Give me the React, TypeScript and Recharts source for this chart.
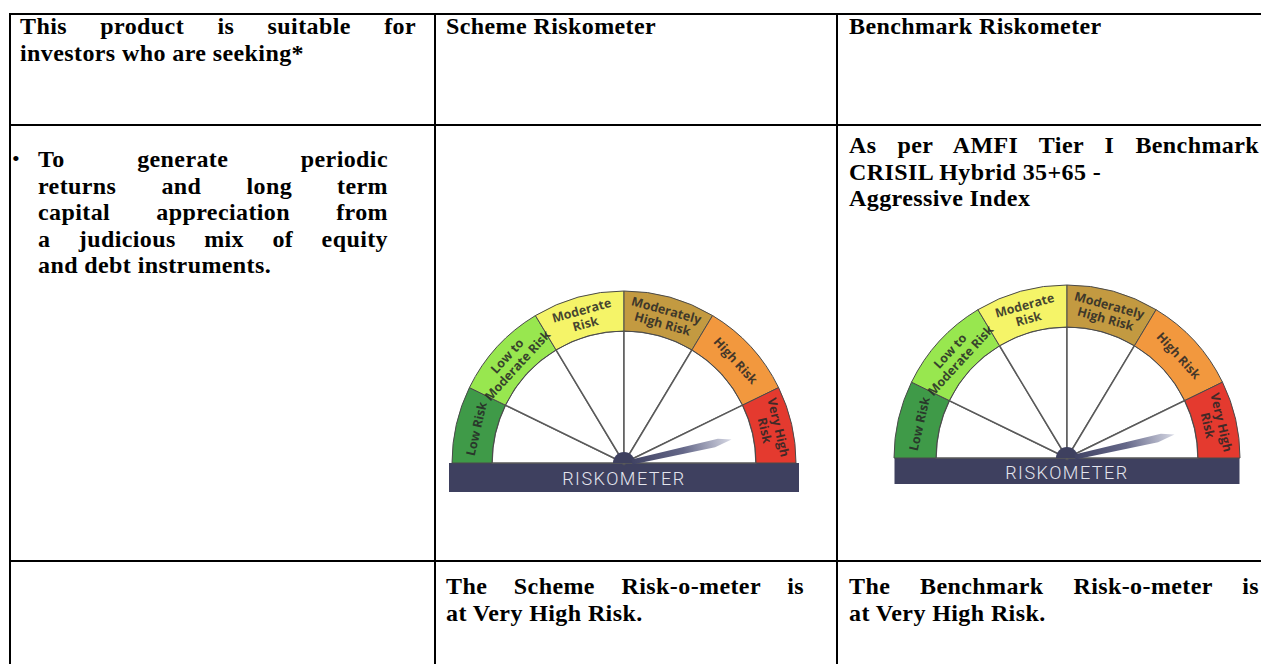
import React from 'react';
import { PieChart, Pie, Cell, Customized } from 'recharts';

// ---------- data ----------
const riskLevels = ['Low Risk', 'Low to Moderate Risk', 'Moderate Risk', 'Moderately High Risk', 'High Risk', 'Very High Risk'];
const riskLabelLines = [['Low Risk'], ['Low to', 'Moderate Risk'], ['Moderate', 'Risk'], ['Moderately', 'High Risk'], ['High Risk'], ['Very High', 'Risk']];
const segmentSpans = [26, 33, 31, 31, 33, 26];
const segmentColors = ['#3f9a48', '#98e74f', '#f5f468', '#c39a41', '#f2983e', '#e43a2f'];
const schemeNeedleValue = 169; // position along 0..180 (left to right)
const benchmarkNeedleValue = 169;

const headerTexts = ['Scheme Riskometer', 'Benchmark Riskometer'];
const col1HeaderLines = ['This product is suitable for', 'investors who are seeking*'];
const col1BulletLines = ['To generate periodic', 'returns and long term', 'capital appreciation from', 'a judicious mix of equity', 'and debt instruments.'];
const benchmarkNameLines = ['As per AMFI Tier I Benchmark', 'CRISIL Hybrid 35+65 -', 'Aggressive Index'];
const schemeFootLines = ['The Scheme Risk-o-meter is', 'at Very High Risk.'];
const benchmarkFootLines = ['The Benchmark Risk-o-meter is', 'at Very High Risk.'];

const segmentData = riskLevels.map((name, i) => ({ name, value: segmentSpans[i] }));
const hubData = [{ name: 'hub', value: 1 }];

const RADIAN = Math.PI / 180;
const FONT = '"Liberation Serif", "Times New Roman", serif';

type GaugeProps = {
  left: number; top: number; width: number; height: number;
  cx: number; cy: number; outerR: number; innerR: number;
  barW: number; barH: number; needle: number; id: string;
};

function Gauge(p: GaugeProps) {
  const renderLabel = (props: any) => {
    const { midAngle, index } = props;
    const r = (p.innerR + p.outerR) / 2;
    const x = p.cx + r * Math.cos(-midAngle * RADIAN);
    const y = p.cy + r * Math.sin(-midAngle * RADIAN);
    const rot = 90 - midAngle;
    const lines = riskLabelLines[index];
    const lh = 14;
    const start = -((lines.length - 1) * lh) / 2;
    return (
      <text
        key={`lbl-${index}`}
        x={x}
        y={y}
        transform={`rotate(${rot} ${x} ${y})`}
        textAnchor="middle"
        dominantBaseline="central"
        fontFamily='"Open Sans", sans-serif'
        fontWeight={700}
        fontSize={12.5}
        fill="#262626"
        fillOpacity={0.85}
      >
        {lines.map((t, k) => (
          <tspan key={k} x={x} dy={k === 0 ? start : lh}>{t}</tspan>
        ))}
      </text>
    );
  };

  const renderNeedle = () => {
    const theta = (180 - p.needle) * RADIAN;
    const L = 110;
    const ux = Math.cos(theta), uy = -Math.sin(theta);
    const vx = -uy, vy = ux;
    const pt = (a: number, b: number) => `${p.cx + ux * a + vx * b},${p.cy + uy * a + vy * b}`;
    const pts = [pt(8, 3), pt(8, -2), pt(L * 0.88, -6), pt(L, -2.5), pt(L * 0.84, 2)].join(' ');
    return (
      <g key={`needle-${p.id}`}>
        <defs>
          <linearGradient id={`ng-${p.id}`} x1={p.cx} y1={p.cy} x2={p.cx + ux * L} y2={p.cy + uy * L} gradientUnits="userSpaceOnUse">
            <stop offset="0%" stopColor="#3b3d5e" />
            <stop offset="55%" stopColor="#656889" />
            <stop offset="100%" stopColor="#d6d8e4" />
          </linearGradient>
        </defs>
        <polygon points={pts} fill={`url(#ng-${p.id})`} />
      </g>
    );
  };

  const Decor = () => (
    <g>
      <rect x={p.cx - p.barW / 2} y={p.cy} width={p.barW} height={p.barH} fill="#3e405f" />
      <text
        x={p.cx}
        y={p.cy + p.barH / 2 + 1}
        textAnchor="middle"
        dominantBaseline="central"
        fontFamily="Roboto, sans-serif"
        fontWeight={300}
        fontSize={18}
        letterSpacing={1.5}
        fill="#e4e5ee"
      >
        RISKOMETER
      </text>
    </g>
  );

  return (
    <div style={{ position: 'absolute', left: p.left, top: p.top }}>
      <PieChart width={p.width} height={p.height} margin={{ top: 0, right: 0, bottom: 0, left: 0 }}>
        <Customized component={Decor} />
        <Pie
          data={segmentData}
          dataKey="value"
          cx={p.cx}
          cy={p.cy}
          startAngle={180}
          endAngle={0}
          innerRadius={0}
          outerRadius={p.innerR}
          fill="#ffffff"
          stroke="#5a5a5a"
          strokeWidth={1.5}
          isAnimationActive={false}
          label={false}
        />
        <Pie
          data={segmentData}
          dataKey="value"
          cx={p.cx}
          cy={p.cy}
          startAngle={180}
          endAngle={0}
          innerRadius={p.innerR}
          outerRadius={p.outerR}
          stroke="#4a4a4a"
          strokeWidth={1}
          isAnimationActive={false}
          labelLine={false}
          label={renderLabel}
        >
          {segmentData.map((d, i) => (
            <Cell key={d.name} fill={segmentColors[i]} />
          ))}
        </Pie>
        <Pie
          data={hubData}
          dataKey="value"
          cx={p.cx}
          cy={p.cy}
          startAngle={180}
          endAngle={0}
          innerRadius={0}
          outerRadius={11}
          fill="#3e405f"
          stroke="none"
          isAnimationActive={false}
          labelLine={false}
          label={renderNeedle}
        />
      </PieChart>
    </div>
  );
}

const lineStyle = (left: number, top: number, width: number, height: number): React.CSSProperties => ({
  position: 'absolute', left, top, width, height, background: '#000',
});

// justifyCount: number of leading lines that are stretched to the block width
function TextBlock({ left, top, width, lines, justifyCount = 0 }: { left: number; top: number; width?: number; lines: string[]; justifyCount?: number }) {
  return (
    <div style={{ position: 'absolute', left, top, width, fontFamily: FONT, fontWeight: 700, fontSize: 24, letterSpacing: '0.4px', lineHeight: '26.6px', color: '#000', whiteSpace: 'nowrap' }}>
      {lines.map((t, i) => (
        <div
          key={i}
          style={i < justifyCount ? { textAlign: 'justify', textAlignLast: 'justify', whiteSpace: 'normal' } : {}}
        >
          {t}
        </div>
      ))}
    </div>
  );
}

export default function App() {
  return (
    <div style={{ position: 'absolute', left: 0, top: 0, width: 1261, height: 664, background: '#fff', overflow: 'hidden' }}>
      {/* grid lines */}
      <div style={lineStyle(9, 13, 1300, 2)} />
      <div style={lineStyle(9, 13, 2, 700)} />
      <div style={lineStyle(434, 13, 2, 700)} />
      <div style={lineStyle(836, 13, 2, 700)} />
      <div style={lineStyle(9, 124, 1300, 2)} />
      <div style={lineStyle(9, 560, 1300, 2)} />

      {/* header row */}
      <TextBlock left={20} top={13} width={396} lines={col1HeaderLines} justifyCount={1} />
      <TextBlock left={446} top={13} lines={[headerTexts[0]]} />
      <TextBlock left={849} top={13} lines={[headerTexts[1]]} />

      {/* body row */}
      <div style={{ position: 'absolute', left: 12, top: 146, fontFamily: FONT, fontSize: 22, lineHeight: '26.6px' }}>•</div>
      <TextBlock left={38} top={146} width={350} lines={col1BulletLines} justifyCount={4} />
      <TextBlock left={849} top={132} width={410} lines={benchmarkNameLines} justifyCount={1} />

      <Gauge id="scheme" left={445} top={285} width={360} height={212} cx={179} cy={178} outerR={172} innerR={132} barW={350} barH={29} needle={schemeNeedleValue} />
      <Gauge id="bench" left={888} top={280} width={356} height={210} cx={179} cy={178} outerR={173} innerR={131} barW={345} barH={26} needle={benchmarkNeedleValue} />

      {/* footer row */}
      <TextBlock left={446} top={573} width={358} lines={schemeFootLines} justifyCount={1} />
      <TextBlock left={849} top={573} width={410} lines={benchmarkFootLines} justifyCount={1} />
    </div>
  );
}
